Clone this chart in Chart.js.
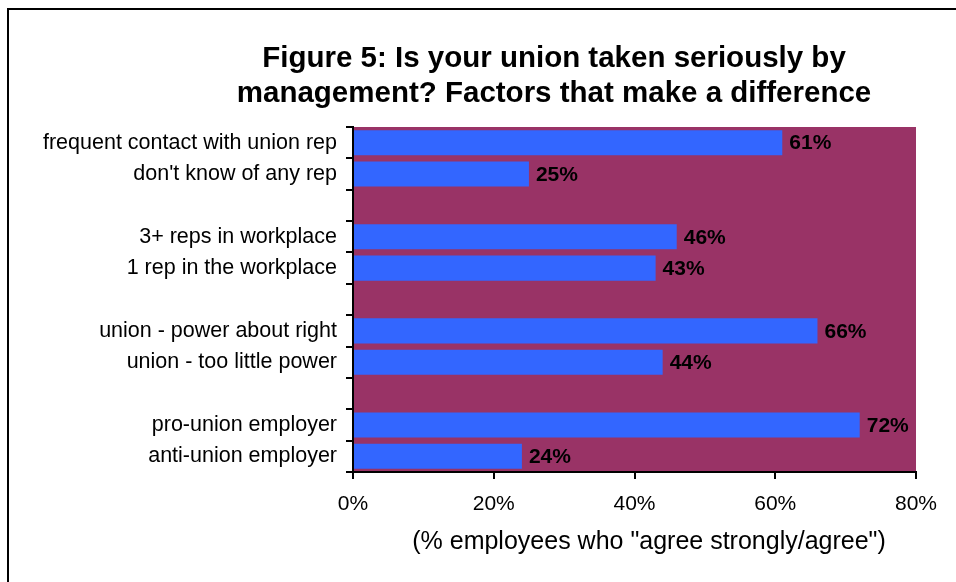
<!DOCTYPE html>
<html lang="en">
<head>
  <meta charset="UTF-8">
  <title>Figure 5: Is your union taken seriously by management?</title>
  <script src="https://cdn.jsdelivr.net/npm/chart.js"></script>
  <style>
    body {
      margin: 0;
      width: 956px;
      height: 582px;
      overflow: hidden;
      background-color: #ffffff;
      position: relative;
    }
    .frame {
      position: absolute;
      left: 7px;
      top: 8px;
      width: 1200px;
      height: 1200px;
      border: 2px solid #000000;
    }
    #chartBox {
      position: absolute;
      left: 0;
      top: 0;
      width: 956px;
      height: 582px;
    }
  </style>
</head>
<body>
  <div class="frame"></div>
  <div id="chartBox">
    <canvas id="unionChart" width="956" height="582"></canvas>
  </div>

  <script>
    // Chart data: empty rows separate the four groups
    const categories = [
      'frequent contact with union rep',
      "don't know of any rep",
      '',
      '3+ reps in workplace',
      '1 rep in the workplace',
      '',
      'union - power about right',
      'union - too little power',
      '',
      'pro-union employer',
      'anti-union employer'
    ];
    const agreeShare = [61, 25, null, 46, 43, null, 66, 44, null, 72, 24];
    const xTicks = [0, 20, 40, 60, 80];

    const titleLines = [
      'Figure 5: Is your union taken seriously by',
      'management? Factors that make a difference'
    ];
    const axisTitle = '(% employees who "agree strongly/agree")';

    const fontFamily = '"Liberation Sans", Arial, sans-serif';

    // Plum background behind the bars
    const plotBackground = {
      id: 'plotBackground',
      beforeDraw(chart) {
        const { ctx, chartArea } = chart;
        ctx.save();
        ctx.fillStyle = '#993366';
        ctx.fillRect(chartArea.left, chartArea.top,
          chartArea.right - chartArea.left, chartArea.bottom - chartArea.top);
        ctx.restore();
      }
    };

    // Percent labels at the end of each bar
    const barValues = {
      id: 'barValues',
      afterDatasetsDraw(chart) {
        const { ctx } = chart;
        const meta = chart.getDatasetMeta(0);
        ctx.save();
        ctx.font = 'bold 21px ' + fontFamily;
        ctx.fillStyle = '#000000';
        ctx.textAlign = 'left';
        ctx.textBaseline = 'middle';
        meta.data.forEach((bar, i) => {
          const v = agreeShare[i];
          if (v === null) return;
          ctx.fillText(v + '%', bar.x + 7, bar.y + 1);
        });
        ctx.restore();
      }
    };

    // Chart title and x-axis caption
    const captions = {
      id: 'captions',
      afterDraw(chart) {
        const { ctx } = chart;
        ctx.save();
        ctx.fillStyle = '#000000';
        ctx.textAlign = 'center';
        ctx.textBaseline = 'alphabetic';
        ctx.font = 'bold 29.5px ' + fontFamily;
        ctx.fillText(titleLines[0], 554, 67);
        ctx.fillText(titleLines[1], 554, 102);
        ctx.font = '25px ' + fontFamily;
        ctx.textBaseline = 'middle';
        ctx.fillText(axisTitle, 649, 542);
        ctx.restore();
      }
    };

    const ctx = document.getElementById('unionChart').getContext('2d');
    new Chart(ctx, {
      type: 'bar',
      data: {
        labels: categories,
        datasets: [{
          data: agreeShare,
          backgroundColor: '#3366FF',
          borderWidth: 0,
          barPercentage: 0.8,
          categoryPercentage: 1.0
        }]
      },
      options: {
        indexAxis: 'y',
        responsive: false,
        animation: false,
        layout: {
          padding: { top: 127, right: 40, left: 0, bottom: 0 }
        },
        plugins: {
          legend: { display: false },
          title: { display: false },
          tooltip: { enabled: false }
        },
        scales: {
          x: {
            min: 0,
            max: 80,
            afterFit(scale) { scale.height = 110; },
            afterBuildTicks(scale) {
              scale.ticks = xTicks.map(v => ({ value: v }));
            },
            grid: {
              drawOnChartArea: false,
              drawTicks: true,
              tickLength: 7,
              color: '#000000',
              lineWidth: 2
            },
            border: { display: true, color: '#000000', width: 2 },
            ticks: {
              color: '#000000',
              font: { family: fontFamily, size: 21 },
              padding: 13,
              callback: v => v + '%'
            }
          },
          y: {
            afterFit(scale) { scale.width = 353; },
            grid: {
              offset: true,
              drawOnChartArea: false,
              drawTicks: true,
              tickLength: 7,
              color: '#000000',
              lineWidth: 2
            },
            border: { display: true, color: '#000000', width: 2 },
            ticks: {
              color: '#000000',
              font: { family: fontFamily, size: 21.5 },
              padding: 9,
              autoSkip: false
            }
          }
        }
      },
      plugins: [plotBackground, barValues, captions]
    });
  </script>
</body>
</html>
